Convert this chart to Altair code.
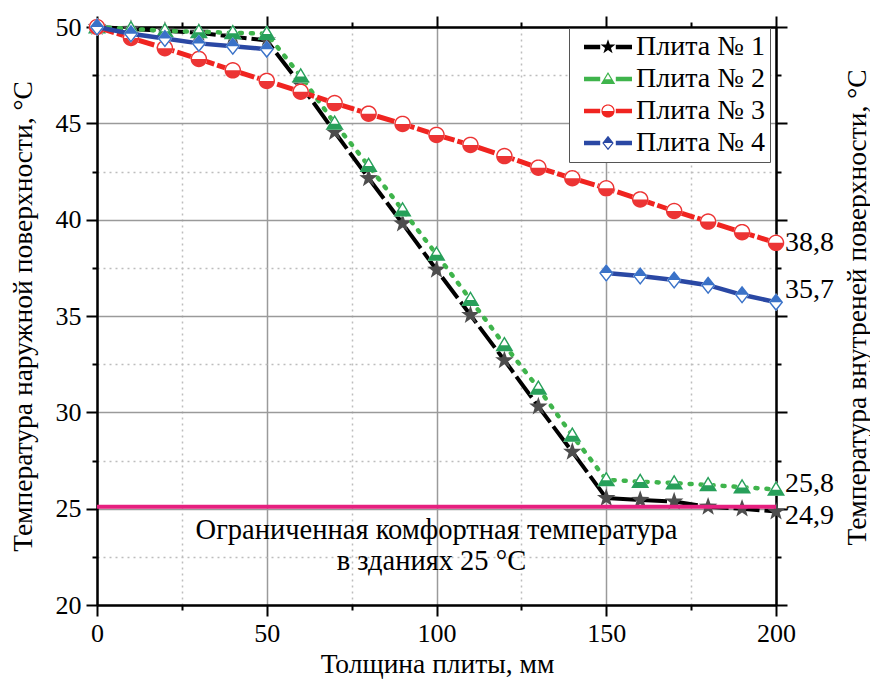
import math
import altair as alt
import pandas as pd

# ---------------- data ----------------
thickness = [0, 10, 20, 30, 40, 50, 60, 70, 80, 90, 100,
             110, 120, 130, 140, 150, 160, 170, 180, 190, 200]
plate1 = [50.0, 49.9, 49.8, 49.7, 49.5, 49.3, 47.0, 44.55, 42.15, 39.8, 37.4,
          35.05, 32.7, 30.3, 27.95, 25.55, 25.45, 25.37, 25.1, 25.0, 24.85]
plate2 = [50.0, 49.9, 49.8, 49.75, 49.7, 49.65, 47.45, 45.0, 42.8, 40.5, 38.2,
          35.85, 33.5, 31.25, 28.8, 26.5, 26.4, 26.33, 26.23, 26.12, 26.0]
plate3 = [50.0, 49.43, 48.9, 48.34, 47.75, 47.2, 46.64, 46.05, 45.5, 44.97, 44.4,
          43.88, 43.3, 42.7, 42.15, 41.63, 41.05, 40.45, 39.9, 39.35, 38.8]
plate4 = [50.0, 49.65, 49.4, 49.15, 49.0, 48.85, None, None, None, None, None,
          None, None, None, None, 37.23, 37.08, 36.87, 36.6, 36.1, 35.72]

series_names = ["Плита № 1", "Плита № 2", "Плита № 3", "Плита № 4"]
line_colors = ["#000000", "#3fb44c", "#f02420", "#2a48a4"]
marker_colors = ["#4d4d4d", "#27a05a", "#ec3434", "#3a72c8"]

comfort_temp = [25.1]
note_lines = ["Ограниченная комфортная температура", "в зданиях 25 °C"]
note_x = [100, 98.5]
note_y = [23.9, 22.3]

end_labels = ["38,8", "35,7", "25,8", "24,9"]
end_label_x = [200, 200, 200, 200]
end_label_y = [38.8, 36.35, 26.3, 24.62]

x_ticks = [0, 25, 50, 75, 100, 125, 150, 175, 200]
y_ticks = [20, 22.5, 25, 27.5, 30, 32.5, 35, 37.5, 40, 42.5, 45, 47.5, 50]

FONT = "Liberation Serif"

# ---------------- marker geometry (unit box paths) ----------------
def poly(pts):
    return "M" + " L".join(f"{x:.3f},{y:.3f}" for x, y in pts) + " Z"

def scale_about(pts, cx, cy, k):
    return [(cx + (x - cx) * k, cy + (y - cy) * k) for x, y in pts]

def ring(outer, cx, cy, inr, t):
    k = (inr - t) / inr
    inner = scale_about(outer, cx, cy, k)
    return poly(outer) + " " + poly(list(reversed(inner)))

T = 0.19  # outline thickness in symbol units

# star
star = []
for i in range(10):
    ang = math.radians(-90 + 36 * i)
    r = 1.3 if i % 2 == 0 else 0.52
    star.append((r * math.cos(ang), r * math.sin(ang)))
star_path = poly(star)

# triangle (top hollow, bottom filled)
A, B, C = (0.0, -1.15), (1.2, 0.85), (-1.2, 0.85)
a = math.dist(B, C); b = math.dist(C, A); c = math.dist(A, B)
per = a + b + c
icx = (a * A[0] + b * B[0] + c * C[0]) / per
icy = (a * A[1] + b * B[1] + c * C[1]) / per
area = abs((B[0] - A[0]) * (C[1] - A[1]) - (C[0] - A[0]) * (B[1] - A[1])) / 2
inr = area / (per / 2)
tri_outer = [A, B, C]
ycut = 0.05
hw = 1.2 * (ycut + 1.15) / 2.0
tri_fill = [(-hw, ycut), (hw, ycut), B, C]
tri_base = poly(tri_outer)
tri_path = ring(tri_outer, icx, icy, inr, T) + " " + poly(tri_fill)

# circle (top hollow, bottom filled)
R = 1.1
circ_outer = [(R * math.cos(math.radians(180 + 360 * i / 32)),
               R * math.sin(math.radians(180 + 360 * i / 32))) for i in range(32)]
circ_fill = [(R * math.cos(math.radians(360 * i / 16 * 0.5)),
              R * math.sin(math.radians(360 * i / 16 * 0.5))) for i in range(17)]
circ_base = poly(circ_outer)
circ_path = ring(circ_outer, 0, 0, R, T) + " " + poly(circ_fill)

# diamond (top filled, bottom hollow)
p_, q_ = 0.95, 1.2
dia_outer = [(0, -q_), (p_, 0), (0, q_), (-p_, 0)]
dia_inr = p_ * q_ / math.hypot(p_, q_)
dia_fill = [(0, -q_), (p_, 0), (-p_, 0)]
dia_base = poly(dia_outer)
dia_path = ring(dia_outer, 0, 0, dia_inr, T) + " " + poly(dia_fill)

marker_paths = [star_path, tri_path, circ_path, dia_path]
marker_bases = [None, tri_base, circ_base, dia_base]

bar_l = poly([(-4, -0.36), (-1.3, -0.36), (-1.3, 0.36), (-4, 0.36)])
bar_r = poly([(1.3, -0.36), (4, -0.36), (4, 0.36), (1.3, 0.36)])
legend_paths = [bar_l + " " + bar_r + " " + p for p in marker_paths]

line_styles = [
    dict(strokeWidth=4, strokeDash=[26, 5]),
    dict(strokeWidth=4.5, strokeDash=[2, 9], strokeCap="round"),
    dict(strokeWidth=5, strokeDash=[18, 3]),
    dict(strokeWidth=4.5),
]

# ---------------- scales / axes ----------------
xscale = alt.Scale(domain=[0, 200], nice=False, zero=False)
yscale = alt.Scale(domain=[20, 50], nice=False, zero=False)

tick_x = {"condition": {"test": "datum.value % 50 === 0", "value": 11}, "value": 5}
tick_y = {"condition": {"test": "datum.value % 5 === 0", "value": 11}, "value": 5}
grid_dash_x = {"condition": {"test": "datum.value % 50 === 0", "value": []}, "value": [2, 4]}
grid_dash_y = {"condition": {"test": "datum.value % 5 === 0", "value": []}, "value": [2, 4]}
grid_col_x = {"condition": {"test": "datum.value % 50 === 0", "value": "#9a9a9a"}, "value": "#bdbdbd"}
grid_col_y = {"condition": {"test": "datum.value % 5 === 0", "value": "#9a9a9a"}, "value": "#bdbdbd"}

x_enc = alt.X("thickness:Q", scale=xscale, axis=alt.Axis(
    values=x_ticks, labelExpr="datum.value % 50 === 0 ? datum.label : ''",
    labelFlush=False, labelOverlap=False,
    tickSize=tick_x, grid=True, gridDash=grid_dash_x, gridColor=grid_col_x, gridWidth=1.5,
    title="Толщина плиты, мм", titleX=340, titleY=59, titleBaseline="middle",
    labelPadding=4))
y_enc = alt.Y("temp:Q", scale=yscale, axis=alt.Axis(
    values=y_ticks, labelExpr="datum.value % 5 === 0 ? datum.label : ''",
    labelFlush=False, labelOverlap=False,
    tickSize=tick_y, grid=True, gridDash=grid_dash_y, gridColor=grid_col_y, gridWidth=1.5,
    title="Температура наружной поверхности, °C", titleAngle=270,
    titleX=-74, titleY=289, titleAlign="center", titleBaseline="middle",
    labelPadding=5))

# ---------------- layers ----------------
layers = []
all_series = [plate1, plate2, plate3, plate4]
for i, vals in enumerate(all_series):
    rows = []
    seg = 0
    prev_none = False
    for t, v in zip(thickness, vals):
        if v is None:
            prev_none = True
            continue
        if prev_none:
            seg += 1
            prev_none = False
        rows.append({"thickness": t, "temp": v, "seg": seg})
    d = pd.DataFrame(rows)
    layers.append(alt.Chart(d).mark_line(color=line_colors[i], **line_styles[i])
                  .encode(x=x_enc, y=y_enc, detail="seg:N"))
    if marker_bases[i] is not None:
        layers.append(alt.Chart(d).mark_point(shape=marker_bases[i], filled=True, fill="white",
                                              size=225, strokeWidth=0, opacity=1)
                      .encode(x=x_enc, y=y_enc))
    layers.append(alt.Chart(d).mark_point(shape=marker_paths[i], filled=True,
                                          color=marker_colors[i], size=225,
                                          strokeWidth=0, opacity=1)
                  .encode(x=x_enc, y=y_enc))

comfort = alt.Chart(pd.DataFrame({"temp": comfort_temp})).mark_rule(
    color="#e6207f", strokeWidth=4).encode(y=y_enc)

notes = alt.Chart(pd.DataFrame({"thickness": note_x, "temp": note_y, "label": note_lines})).mark_text(
    font=FONT, fontSize=28.5, align="center", baseline="middle", color="black"
).encode(x=x_enc, y=y_enc, text="label:N")

ends = alt.Chart(pd.DataFrame({"thickness": end_label_x, "temp": end_label_y, "label": end_labels})).mark_text(
    font=FONT, fontSize=28, align="left", baseline="middle", dx=9, color="black"
).encode(x=x_enc, y=y_enc, text="label:N")

leg_props = dict(title=None, orient="none", legendX=472, legendY=1,
                 labelFont=FONT, labelFontSize=28, labelColor="black",
                 symbolSize=144, symbolStrokeWidth=0, symbolOpacity=1,
                 symbolOffset=20, labelOffset=14, padding=5, rowPadding=4,
                 strokeColor="#555555", fillColor="white")
legend_layer = alt.Chart(pd.DataFrame({
    "series": series_names, "thickness": [0] * 4, "temp": [50] * 4})).mark_point(
    filled=True, opacity=0, size=144).encode(
    x=x_enc, y=y_enc,
    color=alt.Color("series:N", scale=alt.Scale(domain=series_names, range=line_colors),
                    legend=alt.Legend(**leg_props)),
    shape=alt.Shape("series:N", scale=alt.Scale(domain=series_names, range=legend_paths),
                    legend=alt.Legend(**leg_props)),
)

main = alt.layer(*layers, comfort, notes, ends, legend_layer)

axis_layer = alt.Chart(pd.DataFrame({"thickness": [0], "temp": [20]})).mark_point(opacity=0).encode(
    x=alt.X("thickness:Q", scale=xscale, axis=alt.Axis(
        orient="top", values=x_ticks, labels=False, grid=False, tickSize=tick_x, title=None)),
    y=alt.Y("temp:Q", scale=yscale, axis=alt.Axis(
        orient="right", values=y_ticks, labels=False, grid=False, tickSize=tick_y,
        title="Температура внутреней поверхности, °C", titleAngle=270,
        titleX=81, titleY=280, titleAlign="center", titleBaseline="middle")),
)

chart = alt.layer(main, axis_layer).resolve_scale(
    x="independent", y="independent"
).properties(
    width=679, height=578,
    autosize=alt.AutoSizeParams(type="none"),
    padding={"left": 89, "top": 19, "right": 94, "bottom": 76},
    background="white",
).configure_view(stroke=None).configure_axis(
    domainColor="black", domainWidth=2.5, tickColor="black", tickWidth=2,
    labelFont=FONT, labelFontSize=26, labelColor="black",
    titleFont=FONT, titleFontSize=27.5, titleFontWeight="normal", titleColor="black",
)

chart.save("out.html", embed_options={"renderer": "svg", "actions": False})
